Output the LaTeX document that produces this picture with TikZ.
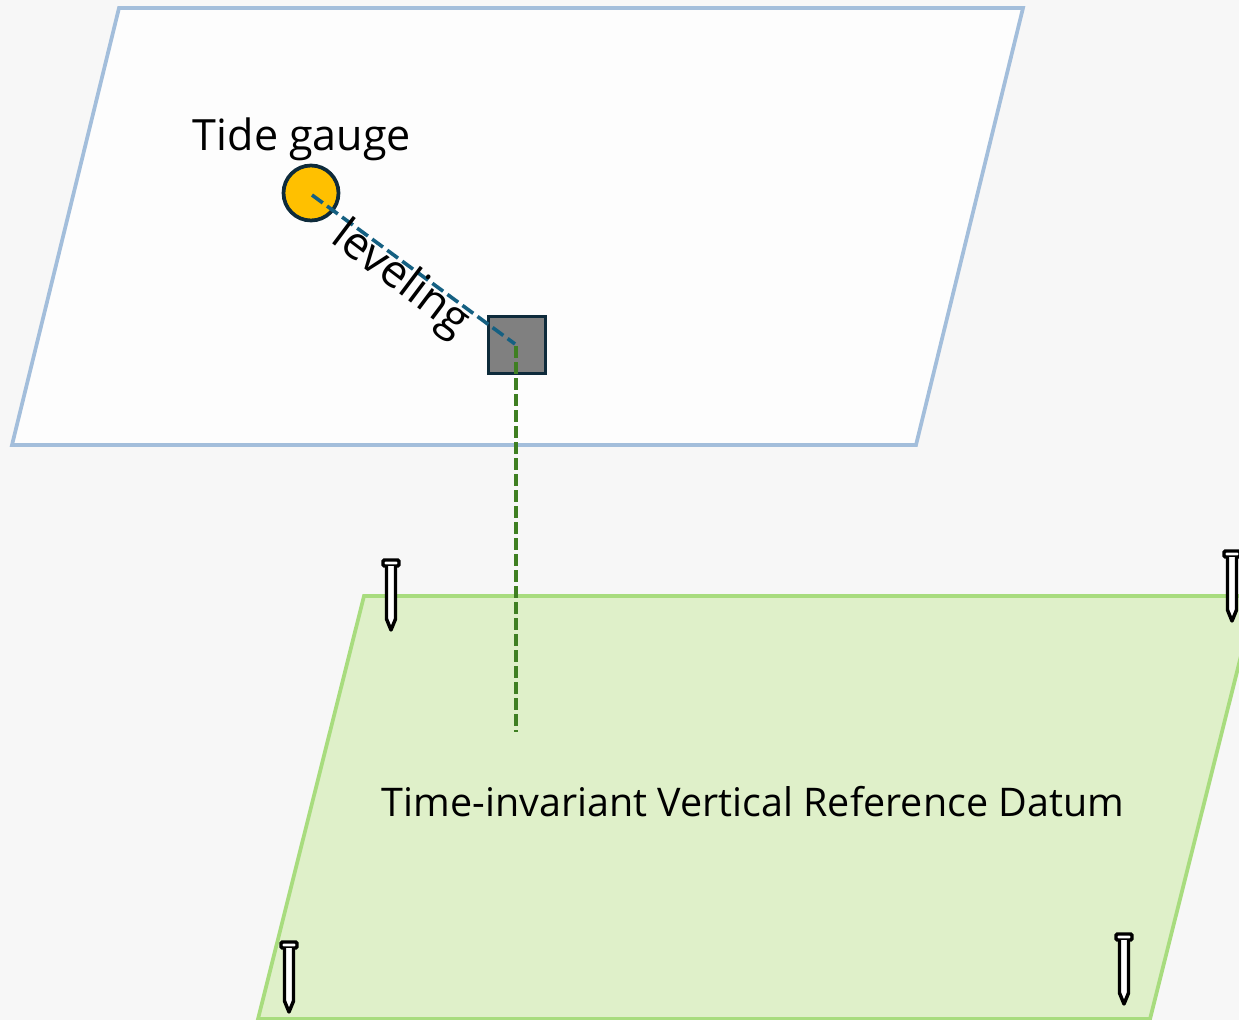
\documentclass[tikz,border=0pt]{standalone}
\usepackage{fontspec}
\setmainfont{Open Sans}
\usetikzlibrary{arrows.meta,positioning}
\definecolor{pagegray}{HTML}{F7F7F7}
\definecolor{topfill}{HTML}{FDFDFD}
\definecolor{topedge}{HTML}{A3BEDB}
\definecolor{datumfill}{HTML}{DFF0C9}
\definecolor{datumedge}{HTML}{A8DC7E}
\definecolor{gaugefill}{HTML}{FFC000}
\definecolor{darkedge}{HTML}{0E2B3B}
\definecolor{levelblue}{HTML}{156082}
\definecolor{dropgreen}{HTML}{3F7F22}
\tikzset{
  gaugedot/.style={circle,draw=darkedge,fill=gaugefill,line width=2.8pt,minimum size=55*0.75pt,inner sep=0pt},
  benchbox/.style={rectangle,draw=darkedge,fill=gray,line width=2.8pt,minimum size=57*0.75pt,inner sep=0pt},
  levelline/.style={draw=levelblue,line width=2.7pt,dash pattern=on 10pt off 4pt},
  dropline/.style={draw=dropgreen,line width=2.7pt,dash pattern=on 9pt off 3pt},
  nail/.pic={
    \draw[line width=2.6pt,fill=white,rounded corners=1pt] (-8,1) rectangle (8,7);
    \draw[line width=2.6pt,fill=white,line join=round] (-4.5,7) -- (-4.5,60) -- (0,71) -- (4.5,60) -- (4.5,7);
  }
}
\begin{document}
\begin{tikzpicture}[x=0.75pt,y=-0.75pt]
      \useasboundingbox (0,0) rectangle (1239,1020);
      \clip (0,0) rectangle (1239,1020);
      \fill[pagegray] (0,0) rectangle (1239,1020);
      % upper plane
      \draw[topedge,fill=topfill,line width=2.8pt] (119,8) -- (1023,8) -- (916,445) -- (12,445) -- cycle;
      % datum plane
      \draw[datumedge,fill=datumfill,line width=2.8pt] (364,596) -- (1256,596) -- (1150,1019) -- (258,1019) -- cycle;
      \node (gaugetext) at (302,139) {\fontsize{32.3}{36}\selectfont Tide gauge};
      \node[gaugedot] (gauge) at (311,193) {};
      \node[benchbox] (bench) at (517,345) {};
      \coordinate (gaugemid) at (312,195);
      \coordinate (benchmid) at (515,344);
      \coordinate (dropend) at (516,732);
      \coordinate (droptop) at (516,346);
      \draw[levelline] (gaugemid) -- (benchmid);
      \draw[dropline] (droptop) -- (dropend);
      \node[rotate=-37] (levellabel) at (400,280) {\fontsize{34}{38}\selectfont leveling};
      \node (datumtext) at (753,802) {\fontsize{29.6}{34}\selectfont Time-invariant Vertical Reference Datum};
      % survey nails
      \pic at (391,559) {nail};
      \pic at (1232,550) {nail};
      \pic at (289,941) {nail};
      \pic at (1124,933) {nail};
\end{tikzpicture}
\end{document}
